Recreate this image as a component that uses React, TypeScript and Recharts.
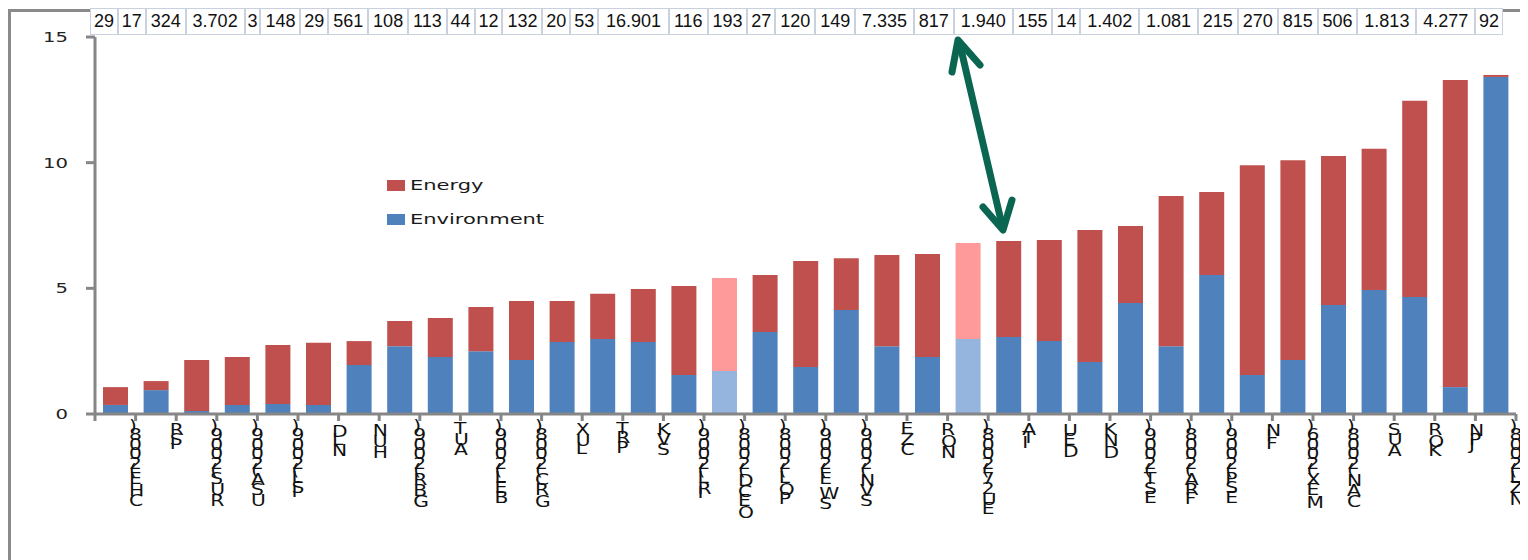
import { BarChart, Bar, XAxis, YAxis, Cell, Legend } from "recharts";

// category labels, read bottom-to-top in the picture
const countries = [
  "CHE(2008)", "ISR", "RUS(2009)", "USA(2009)", "ISL(2009)", "NLD", "HUN", "GBR(2009)",
  "AUT", "BEL(2009)", "GRC(2008)", "LUX", "PRT", "SVK", "IRL(2009)", "OECD(2008)",
  "POL(2008)", "SWE(2009)", "SVN(2009)", "CZE", "NOR", "EU27(2008)", "ITA", "DEU",
  "DNK", "EST(2009)", "FRA(2008)", "ESP(2009)", "FIN", "MEX(2006)", "CAN(2008)", "AUS",
  "KOR", "JPN", "NZL(2008)",
];

const environment = [
  0.36, 0.95, 0.12, 0.36, 0.4, 0.36, 1.95, 2.7, 2.27, 2.5, 2.15, 2.86, 2.98, 2.86, 1.55, 1.71,
  3.26, 1.87, 4.14, 2.7, 2.27, 2.98, 3.06, 2.9, 2.07, 4.42, 2.7, 5.53, 1.55, 2.15, 4.34, 4.93,
  4.66, 1.07, 13.41,
];

const energy = [
  0.71, 0.36, 2.03, 1.91, 2.35, 2.47, 0.95, 1.0, 1.55, 1.76, 2.35, 1.64, 1.8, 2.11, 3.54, 3.7,
  2.27, 4.22, 2.06, 3.63, 4.1, 3.82, 3.82, 4.02, 5.25, 3.06, 5.97, 3.3, 8.35, 7.95, 5.93, 5.62,
  7.8, 12.22, 0.08,
];

// numbers in the strip above the plot
const topValues = [
  "29", "17", "324", "3.702", "3", "148", "29", "561", "108", "113", "44", "12", "132", "20",
  "53", "16.901", "116", "193", "27", "120", "149", "7.335", "817", "1.940", "155", "14",
  "1.402", "1.081", "215", "270", "815", "506", "1.813", "4.277", "92",
];

const highlighted = ["OECD(2008)", "EU27(2008)"];
const yTicks = [0, 5, 10, 15];

const data = countries.map((name, i) => ({
  name,
  environment: environment[i],
  energy: energy[i],
}));

const W = 1520;
const H = 552;
const margin = { top: 29, right: 12, left: 0, bottom: 0 };
const Y_W = 87;
const X_H = 146;
const band = (W - margin.left - margin.right - Y_W) / countries.length;

const AXIS = "#868686";
const ENERGY = "#c0504d";
const ENV = "#4f81bd";
const ENERGY_LIGHT = "#ff9a9a";
const ENV_LIGHT = "#95b5de";

const YTick = (props: any) => {
  const { x, y, payload } = props;
  return (
    <g transform={`translate(${x},${y}) scale(1.4,1)`}>
      <text textAnchor="end" dy={5} fontFamily="DejaVu Sans" fontSize={14} fill="#222">
        {payload.value}
      </text>
    </g>
  );
};

const XTick = (props: any) => {
  const { x, y, payload, index } = props;
  const bx = x + band / 2;
  const label = String(payload.value);
  return (
    <g>
      {index === 0 && (
        <line x1={x - band / 2} x2={x - band / 2} y1={y} y2={y + 7} stroke={AXIS} strokeWidth={3} />
      )}
      <line x1={bx} x2={bx} y1={y} y2={y + 7} stroke={AXIS} strokeWidth={3} />
      <g transform={`translate(${bx},${y + 11}) scale(1.35,1)`}>
        <text
          transform="rotate(-90)"
          textAnchor="end"
          x={0}
          y={-4.8}
          rotate="90"
          fontFamily="DejaVu Sans"
          fontSize={15}
          fill="#111"
        >
          {label}
        </text>
      </g>
    </g>
  );
};

const LegendContent = () => {
  const items = [
    { name: "Energy", color: ENERGY },
    { name: "Environment", color: ENV },
  ];
  return (
    <div>
      {items.map((it) => (
        <div key={it.name} style={{ display: "flex", alignItems: "center", height: 34 }}>
          <span style={{ width: 18, height: 11, background: it.color, marginRight: 5 }} />
          <span
            style={{
              fontFamily: "DejaVu Sans",
              fontSize: 14,
              color: "#1a1a1a",
              transform: "scaleX(1.5)",
              transformOrigin: "left center",
              whiteSpace: "nowrap",
            }}
          >
            {it.name}
          </span>
        </div>
      ))}
    </div>
  );
};

export default function App() {
  return (
    <div style={{ position: "relative", width: W, height: H }}>
      <div style={{ position: "absolute", left: 0, top: 1, width: 3, height: H, background: "#8a8a8a" }} />
      <div style={{ position: "absolute", left: 0, top: 1, width: W, height: 3, background: "#8a8a8a" }} />
      <div style={{ position: "absolute", left: 0, top: 0 }}>
        <BarChart width={W} height={H} data={data} margin={margin} barSize={25}>
          <XAxis
            dataKey="name"
            interval={0}
            height={X_H}
            tickLine={false}
            tickSize={0}
            tickMargin={0}
            axisLine={{ stroke: AXIS, strokeWidth: 3 }}
            tick={<XTick />}
          />
          <YAxis
            width={Y_W}
            domain={[0, 15]}
            ticks={yTicks}
            tickSize={9}
            tickMargin={18}
            axisLine={{ stroke: AXIS, strokeWidth: 3 }}
            tickLine={{ stroke: AXIS, strokeWidth: 3 }}
            tick={<YTick />}
          />
          <Legend
            layout="vertical"
            align="center"
            verticalAlign="middle"
            content={<LegendContent />}
            wrapperStyle={{ left: 379, top: 160, width: 220 }}
          />
          <Bar dataKey="environment" stackId="s" fill={ENV} isAnimationActive={false}>
            {data.map((d) => (
              <Cell key={d.name} fill={highlighted.includes(d.name) ? ENV_LIGHT : ENV} />
            ))}
          </Bar>
          <Bar dataKey="energy" stackId="s" fill={ENERGY} isAnimationActive={false}>
            {data.map((d) => (
              <Cell key={d.name} fill={highlighted.includes(d.name) ? ENERGY_LIGHT : ENERGY} />
            ))}
          </Bar>
        </BarChart>
      </div>
      <div
        style={{
          position: "absolute",
          left: 82,
          top: 0,
          width: 1413,
          height: 27,
          display: "flex",
          background: "#fff",
          border: "1px solid #c9d1df",
          boxSizing: "border-box",
        }}
      >
        {topValues.map((v, i) => (
          <div
            key={i}
            style={{
              flex: `${v.length} 1 auto`,
              borderLeft: i ? "2px solid #c9d1df" : "none",
              textAlign: "center",
              fontFamily: "Liberation Sans, Arial, sans-serif",
              fontSize: 18,
              lineHeight: "25px",
              color: "#111",
              padding: "0 1px",
            }}
          >
            {v}
          </div>
        ))}
      </div>
      <svg
        width={W}
        height={H}
        style={{ position: "absolute", left: 0, top: 0, pointerEvents: "none" }}
      >
        <g stroke="#0a6650" strokeWidth={7} strokeLinecap="round" strokeLinejoin="round" fill="none">
          <line x1={952} y1={37} x2={994} y2={217} />
          <polyline points="944,64 950,32 972,57" />
          <polyline points="975,199 995,222 1004,192" />
        </g>
      </svg>
    </div>
  );
}
